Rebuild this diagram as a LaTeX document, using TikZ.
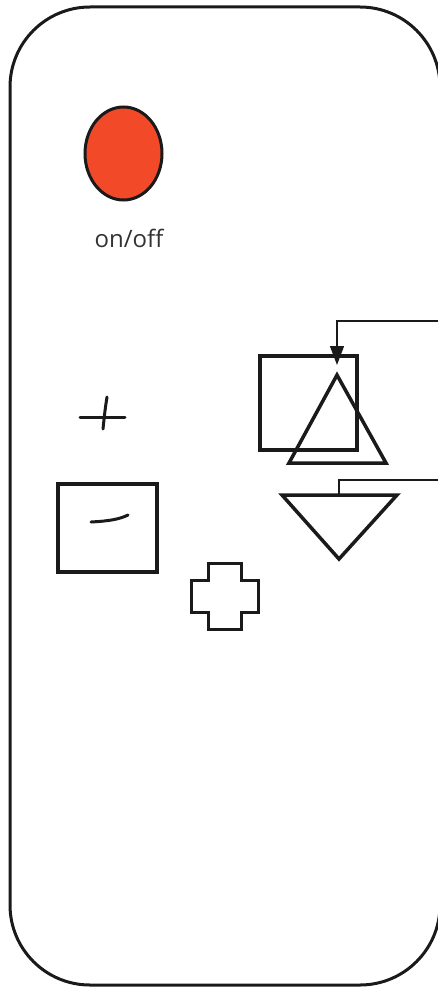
\documentclass[tikz,border=0pt]{standalone}
\usepackage{fontspec}
\setmainfont{Open Sans}
\usetikzlibrary{arrows.meta}
\definecolor{ink}{HTML}{1A1A1A}
\definecolor{btnred}{HTML}{F24A29}
\definecolor{labelgray}{HTML}{333333}

\begin{document}
\begin{tikzpicture}[x=1pt,y=-1pt,>={Stealth[length=19pt,width=14pt,inset=0pt]}]
\useasboundingbox (0,0) rectangle (438,987);
% 遥控器外壳，右边缘落在画面外
\draw[ink,line width=3pt,rounded corners=80pt] (10,7) rectangle (440,985);
% 电源键和标签
\draw[ink,fill=btnred,line width=3pt] (123.5,153.5) ellipse [x radius=38.5pt,y radius=46.5pt];
\node[labelgray,font=\fontsize{24}{27}\selectfont,anchor=base,inner sep=0pt] (onoff) at (129,247) {on/off};
% 左侧手绘的加减号
\draw[ink,line width=3pt,line cap=round] (80,417)--(125,417);
\draw[ink,line width=3pt,line cap=round] (107,397) .. controls (105,410) .. (103,429);
\draw[ink,line width=4pt] (58,484) rectangle (157,572);
\draw[ink,line width=3pt,line cap=round] (91,522) .. controls (110,521) and (120,519) .. (128,515);
\draw[ink,line width=3pt] (208,563)--(241,563)--(241,580)--(258,580)--(258,612)--(241,612)
  --(241,629)--(208,629)--(208,612)--(191,612)--(191,580)--(208,580)--cycle;
% 右侧的方框和上下三角
\draw[ink,line width=4pt] (260,356) rectangle (357,450);
\coordinate (uptip) at (337,375);
\draw[ink,line width=3.5pt] (uptip)--(386,463)--(289,463)--cycle;
\coordinate (downtop) at (339,495);
\draw[ink,line width=3.5pt] (282,495)--(397,495)--(339,559)--cycle;
% 从右边缘引进来的两根线
\coordinate (upin) at (438,321);
\coordinate (downin) at (438,480);
\draw[ink,line width=1.3pt,->,shorten >=10pt] (upin) -| (uptip);
\draw[ink,line width=1.3pt] (downin) -| (downtop);
\end{tikzpicture}
\end{document}
